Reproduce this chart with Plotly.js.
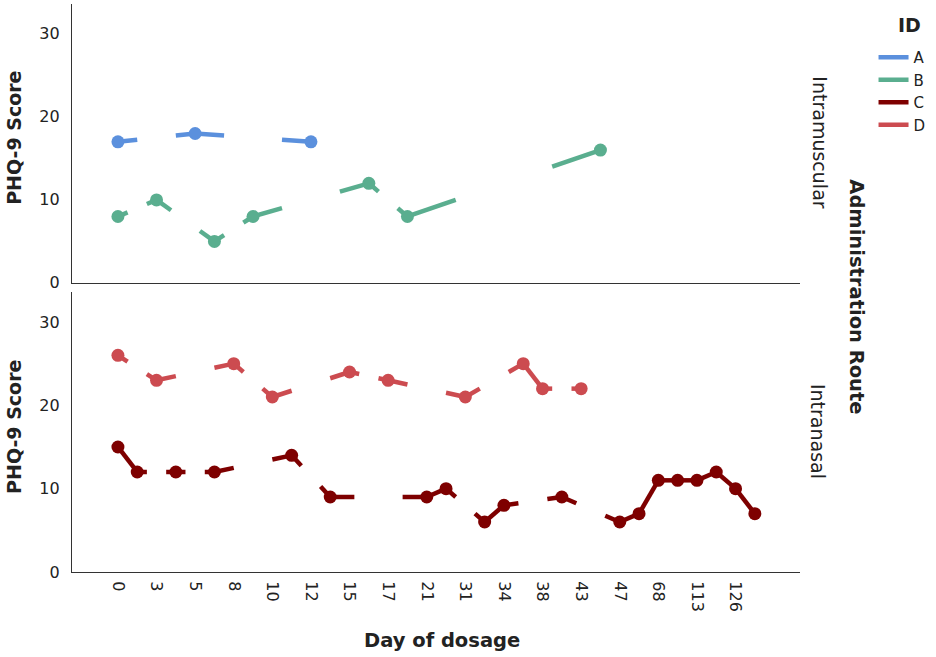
<!DOCTYPE html>
<html>
<head>
<meta charset="utf-8">
<script src="https://cdn.plot.ly/plotly-3.0.1.min.js"></script>
<style>
  html, body { margin: 0; padding: 0; background: #fff; }
  #chart { width: 936px; height: 657px; }
</style>
</head>
<body>
<div id="chart"></div>
<script>
// x positions are slots along the day axis; only every second slot carries a label
const tickDays = ['0', '3', '5', '8', '10', '12', '15', '17', '21', '31', '34', '38', '43', '47', '68', '113', '126'];

const aSlot = [0, 4, 10];
const aScore = [17, 18, 17];
const bSlot = [0, 2, 5, 7, 13, 15, 25];
const bScore = [8, 10, 5, 8, 12, 8, 16];
const cSlot = [0, 1, 3, 5, 9, 11, 16, 17, 19, 20, 23, 26, 27, 28, 29, 30, 31, 32, 33];
const cScore = [15, 12, 12, 12, 14, 9, 9, 10, 6, 8, 9, 6, 7, 11, 11, 11, 12, 10, 7];
const dSlot = [0, 2, 6, 8, 12, 14, 18, 21, 22, 24];
const dScore = [26, 23, 25, 21, 24, 23, 21, 25, 22, 22];

const FONT = 'DejaVu Sans, Verdana, sans-serif';
const TXT = '#222';

// neighbouring slots are joined; wider jumps only show the first and last quarter
const brokenLine = (slots, scores) => {
  let x = [], y = [];
  for (let i = 0; i < slots.length - 1; i++) {
    let x1 = slots[i], x2 = slots[i + 1];
    let y1 = scores[i], y2 = scores[i + 1];
    let d = x2 - x1;
    if (d === 1) {
      x.push(x1, x2, null);
      y.push(y1, y2, null);
    } else {
      let q = d / 4;
      let dy = (y2 - y1) / 4;
      x.push(x1, x1 + q, null, x2 - q, x2, null);
      y.push(y1, y1 + dy, null, y2 - dy, y2, null);
    }
  }
  return { x, y };
};

const series = [
  { name: 'A', slot: aSlot, score: aScore, color: '#5b90dd', xa: 'x2', ya: 'y2' },
  { name: 'B', slot: bSlot, score: bScore, color: '#5aae8f', xa: 'x2', ya: 'y2' },
  { name: 'C', slot: cSlot, score: cScore, color: '#7e0000', xa: 'x', ya: 'y' },
  { name: 'D', slot: dSlot, score: dScore, color: '#cc4b50', xa: 'x', ya: 'y' }
];

let traces = [];
series.forEach(s => {
  let seg = brokenLine(s.slot, s.score);
  traces.push({
    x: seg.x, y: seg.y, xaxis: s.xa, yaxis: s.ya,
    type: 'scatter', mode: 'lines', name: s.name,
    connectgaps: false,
    line: { color: s.color, width: 4.5 },
    hoverinfo: 'skip'
  });
  traces.push({
    x: s.slot, y: s.score, xaxis: s.xa, yaxis: s.ya,
    type: 'scatter', mode: 'markers', name: s.name,
    showlegend: false,
    marker: { color: s.color, size: 13 }
  });
});

const xRange = [-2.38, 35.34];
const yRange = [0, 33.6];

const baseX = {
  range: xRange,
  showgrid: false, zeroline: false,
  showline: true, linecolor: '#333', linewidth: 1.2,
  ticks: 'outside', ticklen: 5, tickcolor: 'rgba(0,0,0,0)',
  tickvals: tickDays.map((d, i) => i * 2),
  ticktext: tickDays,
  tickangle: 90,
  tickfont: { family: FONT, size: 16, color: TXT }
};

const baseY = {
  range: yRange,
  showgrid: false, zeroline: false,
  showline: true, linecolor: '#333', linewidth: 1.2,
  ticks: 'outside', ticklen: 8, tickcolor: 'rgba(0,0,0,0)',
  tickvals: [0, 10, 20, 30],
  tickfont: { family: FONT, size: 16, color: TXT }
};

const note = (text, x, y, angle, size, bold) => ({
  text: bold ? '<b>' + text + '</b>' : text,
  xref: 'paper', yref: 'paper', x, y,
  xanchor: 'center', yanchor: 'middle',
  textangle: angle, showarrow: false,
  font: { family: FONT, size, color: TXT }
});

const layout = {
  width: 936,
  height: 657,
  paper_bgcolor: '#fff',
  plot_bgcolor: '#fff',
  margin: { t: 4, l: 72, r: 136, b: 85 },
  showlegend: true,
  xaxis: Object.assign({}, baseX, { anchor: 'y', domain: [0, 1] }),
  xaxis2: Object.assign({}, baseX, { anchor: 'y2', domain: [0, 1], showticklabels: false }),
  yaxis: Object.assign({}, baseY, { anchor: 'x', domain: [0, 0.493] }),
  yaxis2: Object.assign({}, baseY, { anchor: 'x2', domain: [0.509, 1] }),
  legend: {
    x: 1.101, y: 0.935, xanchor: 'left', yanchor: 'top',
    font: { family: FONT, size: 15, color: TXT },
    itemwidth: 30,
    tracegroupgap: 0
  },
  annotations: [
    note('ID', 1.151, 0.963, 0, 19, true),
    note('PHQ-9 Score', -0.08, 0.764, -90, 19, true),
    note('PHQ-9 Score', -0.08, 0.255, -90, 19, true),
    note('Day of dosage', 0.508, -0.12, 0, 19.5, true),
    note('Intramuscular', 1.027, 0.757, 90, 19, false),
    note('Intranasal', 1.025, 0.248, 90, 19, false),
    note('Administration Route', 1.078, 0.484, 90, 19.5, true)
  ]
};

Plotly.newPlot('chart', traces, layout, { displayModeBar: false, responsive: false });
</script>
</body>
</html>
